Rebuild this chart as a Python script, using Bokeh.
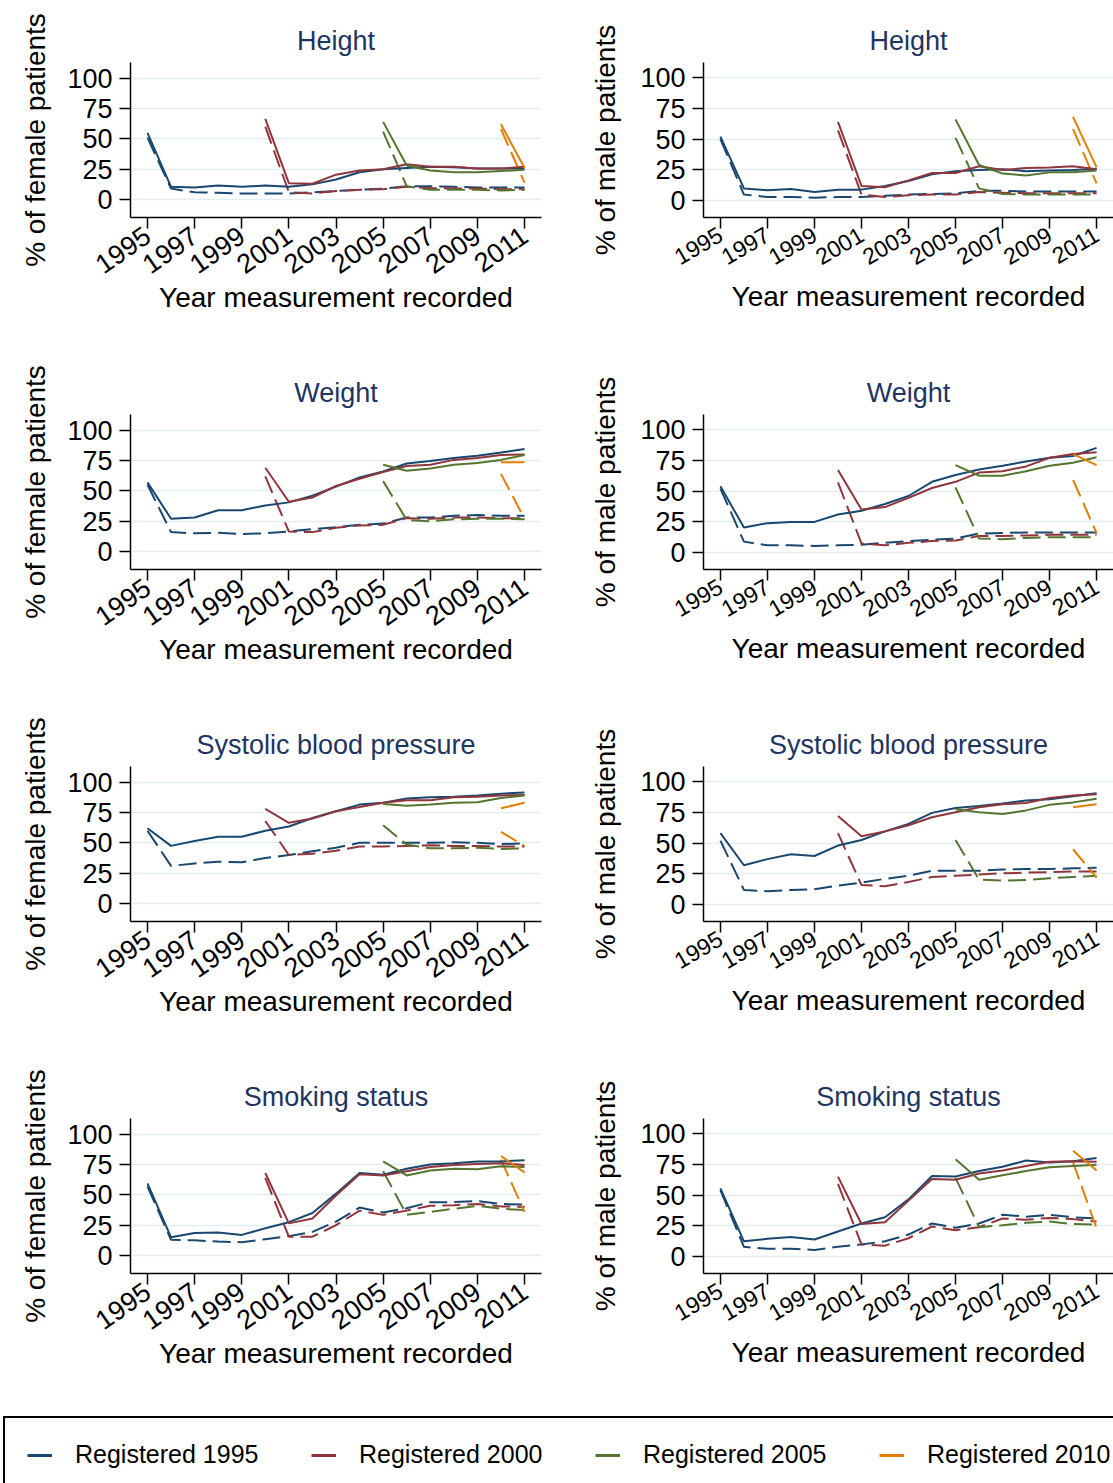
import math
from bokeh.plotting import figure
from bokeh.models import FixedTicker, Legend, LegendItem, Range1d
from bokeh.layouts import column, row
from bokeh.embed import file_html
from bokeh.resources import INLINE

# ---------------- data ----------------
years_1995 = [1995, 1996, 1997, 1998, 1999, 2000, 2001, 2002, 2003, 2004, 2005, 2006, 2007, 2008, 2009, 2010, 2011]
years_2000 = [2000, 2001, 2002, 2003, 2004, 2005, 2006, 2007, 2008, 2009, 2010, 2011]
years_2005 = [2005, 2006, 2007, 2008, 2009, 2010, 2011]
years_2010 = [2010, 2011]

cohorts = ["Registered 1995", "Registered 2000", "Registered 2005", "Registered 2010"]
year_ticks = [1995, 1997, 1999, 2001, 2003, 2005, 2007, 2009, 2011]
pct_ticks = [0, 25, 50, 75, 100]

# Height, female (solid / dashed)
hf_1995_s = [55, 10.5, 10, 11.5, 10.5, 11.5, 10.5, 12.5, 16.5, 22.5, 25, 26, 27, 26.5, 25.5, 25.5, 25.5]
hf_1995_d = [51, 9, 6, 5.5, 5, 5, 5, 6, 7, 8, 9, 11, 11, 10.5, 10, 10, 10]
hf_2000_s = [66.5, 13.5, 13, 20.5, 24, 25, 29, 27, 27, 25.5, 25.5, 27]
hf_2000_d = [60, 6, 5, 7, 8, 8.5, 10.5, 9.5, 9, 9, 8.5, 8.5]
hf_2005_s = [64, 28, 24, 22.5, 22.5, 23.5, 24.5]
hf_2005_d = [56, 11, 8, 8, 8, 7.5, 8]
hf_2010_s = [62, 26]
hf_2010_d = [58, 14]

# Height, male
hm_1995_s = [52, 10, 8.5, 9.5, 7, 9, 9, 12, 16, 21.5, 24, 25, 25.5, 24, 24.5, 25, 26]
hm_1995_d = [50, 5, 3, 3, 2.5, 3, 3, 4, 5, 5.5, 6, 8, 8, 7.5, 7.5, 7.5, 7.5]
hm_2000_s = [64, 12, 11, 16.5, 22.5, 22.5, 28, 25, 26.5, 27, 28, 25.5]
hm_2000_d = [57, 5, 3, 4.5, 5, 5, 7, 6.5, 6, 6, 6, 6]
hm_2005_s = [66, 29, 22, 20.5, 23, 23, 24.5]
hm_2005_d = [51, 10, 5.5, 5, 5, 5, 5]
hm_2010_s = [68, 27]
hm_2010_d = [58, 14]

# Weight, female
wf_1995_s = [57, 27, 28, 34, 34, 38, 40.5, 46, 53.5, 61, 66, 72.5, 74.5, 77, 79, 81.5, 84.5]
wf_1995_d = [55, 16, 15, 15.5, 14.5, 15, 16.5, 18.5, 20, 22, 23, 28, 28, 29.5, 30, 29.5, 29.5]
wf_2000_s = [69, 41, 44.5, 54, 60, 65.5, 70.5, 71.5, 75.5, 77, 79.5, 80]
wf_2000_d = [62, 16.5, 16, 19.5, 21.5, 22, 27.5, 27, 28, 28, 27.5, 27.5]
wf_2005_s = [71.5, 66.5, 68.5, 71.5, 73, 75.5, 79.5]
wf_2005_d = [58, 26, 25, 26.5, 27, 27, 26.5]
wf_2010_s = [73.5, 73.5]
wf_2010_d = [64, 27]

# Weight, male
wm_1995_s = [54, 20.5, 24, 25, 25, 31, 34, 39.5, 46, 57.5, 63, 67.5, 70.5, 74, 77, 78.5, 85]
wm_1995_d = [52, 9, 6, 6, 5.5, 6, 6.5, 8, 9.5, 10.5, 11.5, 15.5, 16, 16.5, 16.5, 16.5, 16.5]
wm_2000_s = [67, 35, 37, 44.5, 52.5, 57.5, 65, 66, 70, 77, 80, 81.5]
wm_2000_d = [57, 7.5, 6, 8, 9.5, 10, 13.5, 13.5, 14, 14.5, 14.5, 14.5]
wm_2005_s = [71, 62.5, 62.5, 66, 70.5, 73, 77.5]
wm_2005_d = [53, 11.5, 11, 12, 12.5, 12.5, 12.5]
wm_2010_s = [80, 71]
wm_2010_d = [59, 16]

# Systolic blood pressure, female
bf_1995_s = [62, 47.5, 51.5, 55, 55, 60, 63.5, 70.5, 76, 81.5, 83, 86.5, 87.5, 88, 89, 90.5, 91.5]
bf_1995_d = [60, 31, 33, 34.5, 34, 37.5, 40, 43, 46, 50, 50, 50, 50, 50.5, 50, 49, 49.5]
bf_2000_s = [78, 66.5, 70, 76, 79.5, 83, 85, 85, 87.5, 88, 89, 89.5]
bf_2000_d = [68, 40, 41, 43.5, 47, 47, 47.5, 48, 47.5, 47.5, 47, 47]
bf_2005_s = [82, 80.5, 81.5, 83, 83.5, 87, 89]
bf_2005_d = [64.5, 48.5, 45.5, 45.5, 46, 45, 45.5]
bf_2010_s = [78.5, 83]
bf_2010_d = [59, 47.5]

# Systolic blood pressure, male
bm_1995_s = [58, 32, 37, 41, 39.5, 48, 52.5, 59.5, 65.5, 74.5, 78.5, 80, 82, 84.5, 85.5, 88, 90.5]
bm_1995_d = [52, 12, 11, 12, 12.5, 15.5, 18, 21, 23.5, 27.5, 27.5, 27.5, 28.5, 29, 29, 29.5, 30]
bm_2000_s = [72, 55.5, 59.5, 64.5, 71, 75, 79, 81.5, 82.5, 86.5, 88.5, 89.5]
bm_2000_d = [58, 16, 15, 18.5, 22.5, 23.5, 24.5, 25.5, 26, 26.5, 27, 27]
bm_2005_s = [77.5, 75, 73.5, 76.5, 81, 83, 86]
bm_2005_d = [52.5, 20.5, 19.5, 20, 21.5, 22.5, 23.5]
bm_2010_s = [79, 81.5]
bm_2010_d = [45, 22]

# Smoking status, female
sf_1995_s = [59.5, 15, 18.5, 19, 17, 22.5, 27.5, 35, 51, 68, 66.5, 71.5, 75, 76, 77.5, 77.5, 78.5]
sf_1995_d = [57, 13, 12.5, 11.5, 11, 13.5, 16, 19.5, 28, 39.5, 35.5, 39, 44, 44, 45, 42.5, 42]
sf_2000_s = [68, 26.5, 30.5, 49.5, 67, 66, 69.5, 73, 74.5, 75.5, 76, 74.5]
sf_2000_d = [64, 15.5, 15.5, 25, 37, 33.5, 37, 41, 41.5, 42.5, 40.5, 40]
sf_2005_s = [77.5, 66, 70, 71.5, 71, 73.5, 73]
sf_2005_d = [69.5, 33.5, 36, 38.5, 41, 38.5, 37.5]
sf_2010_s = [82, 68.5]
sf_2010_d = [79, 36]

# Smoking status, male
sm_1995_s = [55.5, 12.5, 14.5, 16, 14, 20.5, 27, 32, 46.5, 65.5, 65, 69.5, 73, 78, 76.5, 77.5, 80]
sm_1995_d = [54, 8, 6.5, 6.5, 5.5, 8, 10, 12.5, 18, 27, 23.5, 27, 34, 32.5, 34, 32, 31]
sm_2000_s = [65, 26.5, 28, 45.5, 63, 62.5, 67.5, 70, 73.5, 77, 77.5, 77]
sm_2000_d = [59, 10, 9, 15, 24.5, 21.5, 24, 31, 30, 31.5, 30.5, 28.5]
sm_2005_s = [79, 62.5, 66, 69.5, 72.5, 73.5, 74.5]
sm_2005_d = [64, 24, 25.5, 27.5, 28.5, 26.5, 26]
sm_2010_s = [86, 70]
sm_2010_d = [76.5, 23]

# ---------------- styling ----------------
FONT = "Liberation Sans"
COLORS = ["#1a476f", "#90353b", "#55752f", "#e37e00"]
TITLE_COLOR = "#1e3461"
GRID_COLOR = "#e4eef1"
DASH = "18 7"

cohort_years = [years_1995, years_2000, years_2005, years_2010]


def make_panel(title, ylabel, solids, dashes, right):
    W = 557 if right else 556
    if right:
        yr = Range1d(-13.6, 112.1)
    else:
        yr = Range1d(-14.8, 112.9)
    p = figure(width=W, height=352, output_backend="svg", toolbar_location=None,
               x_range=Range1d(1994.28, 2011.72), y_range=yr, min_border=0)
    p.min_border_top = 62
    if right:
        p.min_border_left = 147
        p.min_border_right = 0
        p.min_border_bottom = 125
    else:
        p.min_border_left = 130
        p.min_border_right = 15
        p.min_border_bottom = 135
    p.outline_line_color = None
    p.background_fill_color = "white"
    p.border_fill_color = "white"

    p.title.text = title
    p.title.text_font = FONT
    p.title.text_font_size = "27px"
    p.title.text_font_style = "normal"
    p.title.text_color = TITLE_COLOR
    p.title.align = "center"
    p.title.standoff = 14

    p.xgrid.visible = False
    p.ygrid.ticker = FixedTicker(ticks=pct_ticks)
    p.ygrid.grid_line_color = GRID_COLOR
    p.ygrid.grid_line_width = 1.6

    for ax in (p.xaxis[0], p.yaxis[0]):
        ax.axis_line_color = "black"
        ax.axis_line_width = 1.5
        ax.major_tick_line_color = "black"
        ax.major_tick_line_width = 1.5
        ax.major_tick_in = 0
        ax.major_tick_out = 11
        ax.minor_tick_line_color = None
        ax.major_label_text_font = FONT
        ax.major_label_text_color = "black"
        ax.axis_label_text_font = FONT
        ax.axis_label_text_font_style = "normal"
        ax.axis_label_text_font_size = "28px"
        ax.axis_label_text_color = "black"

    p.yaxis.ticker = FixedTicker(ticks=pct_ticks)
    p.yaxis.major_label_text_font_size = "27px"
    p.yaxis.major_label_standoff = 7
    p.yaxis.axis_label = ylabel
    p.yaxis.axis_label_standoff = 16 if right else 13

    p.xaxis.ticker = FixedTicker(ticks=year_ticks)
    p.xaxis.axis_label = "Year measurement recorded"
    if right:
        p.xaxis.major_label_text_font_size = "23px"
        p.xaxis.major_label_orientation = math.radians(30)
        p.xaxis.axis_label_standoff = 5
    else:
        p.xaxis.major_label_text_font_size = "27px"
        p.xaxis.major_label_orientation = math.radians(35)
        p.xaxis.axis_label_standoff = -4
    p.xaxis.major_label_standoff = 4

    for yrs, ys, col in zip(cohort_years, dashes, COLORS):
        p.line(x=yrs, y=ys, line_color=col, line_width=2, line_dash=DASH)
    for yrs, ys, col in zip(cohort_years, solids, COLORS):
        p.line(x=yrs, y=ys, line_color=col, line_width=2)
    return p


panels = [
    ("Height",
     [hf_1995_s, hf_2000_s, hf_2005_s, hf_2010_s], [hf_1995_d, hf_2000_d, hf_2005_d, hf_2010_d],
     [hm_1995_s, hm_2000_s, hm_2005_s, hm_2010_s], [hm_1995_d, hm_2000_d, hm_2005_d, hm_2010_d]),
    ("Weight",
     [wf_1995_s, wf_2000_s, wf_2005_s, wf_2010_s], [wf_1995_d, wf_2000_d, wf_2005_d, wf_2010_d],
     [wm_1995_s, wm_2000_s, wm_2005_s, wm_2010_s], [wm_1995_d, wm_2000_d, wm_2005_d, wm_2010_d]),
    ("Systolic blood pressure",
     [bf_1995_s, bf_2000_s, bf_2005_s, bf_2010_s], [bf_1995_d, bf_2000_d, bf_2005_d, bf_2010_d],
     [bm_1995_s, bm_2000_s, bm_2005_s, bm_2010_s], [bm_1995_d, bm_2000_d, bm_2005_d, bm_2010_d]),
    ("Smoking status",
     [sf_1995_s, sf_2000_s, sf_2005_s, sf_2010_s], [sf_1995_d, sf_2000_d, sf_2005_d, sf_2010_d],
     [sm_1995_s, sm_2000_s, sm_2005_s, sm_2010_s], [sm_1995_d, sm_2000_d, sm_2005_d, sm_2010_d]),
]

rows = []
for title, fs, fd, ms, md in panels:
    left = make_panel(title, "% of female patients", fs, fd, False)
    rightp = make_panel(title, "% of male patients", ms, md, True)
    rows.append(row(left, rightp, spacing=0))

# ---------------- legend strip ----------------
lg = figure(width=1113, height=75, output_backend="svg", toolbar_location=None,
            x_range=Range1d(0, 1), y_range=Range1d(0, 1), min_border=0)
lg.axis.visible = False
lg.grid.visible = False
lg.outline_line_color = None
lg.border_fill_color = "white"
items = []
for name, col, yrs in zip(cohorts, COLORS, cohort_years):
    # placed outside the visible range: only the legend glyph shows
    r = lg.line(x=yrs[:2], y=[5, 5], line_color=col, line_width=3)
    items.append(LegendItem(label=name, renderers=[r]))
legend = Legend(items=items, orientation="horizontal", location=(3, -10),
                glyph_width=25, glyph_height=20, label_standoff=23, label_width=226, spacing=10,
                padding=22, margin=0, border_line_color="black", border_line_width=2,
                border_line_alpha=1,
                label_text_font=FONT, label_text_font_size="25px", label_text_color="black",
                background_fill_color="white", background_fill_alpha=1)
lg.add_layout(legend, "center")

layout = column(*rows, lg, spacing=0)
open("out.html", "w").write(file_html(layout, INLINE))
